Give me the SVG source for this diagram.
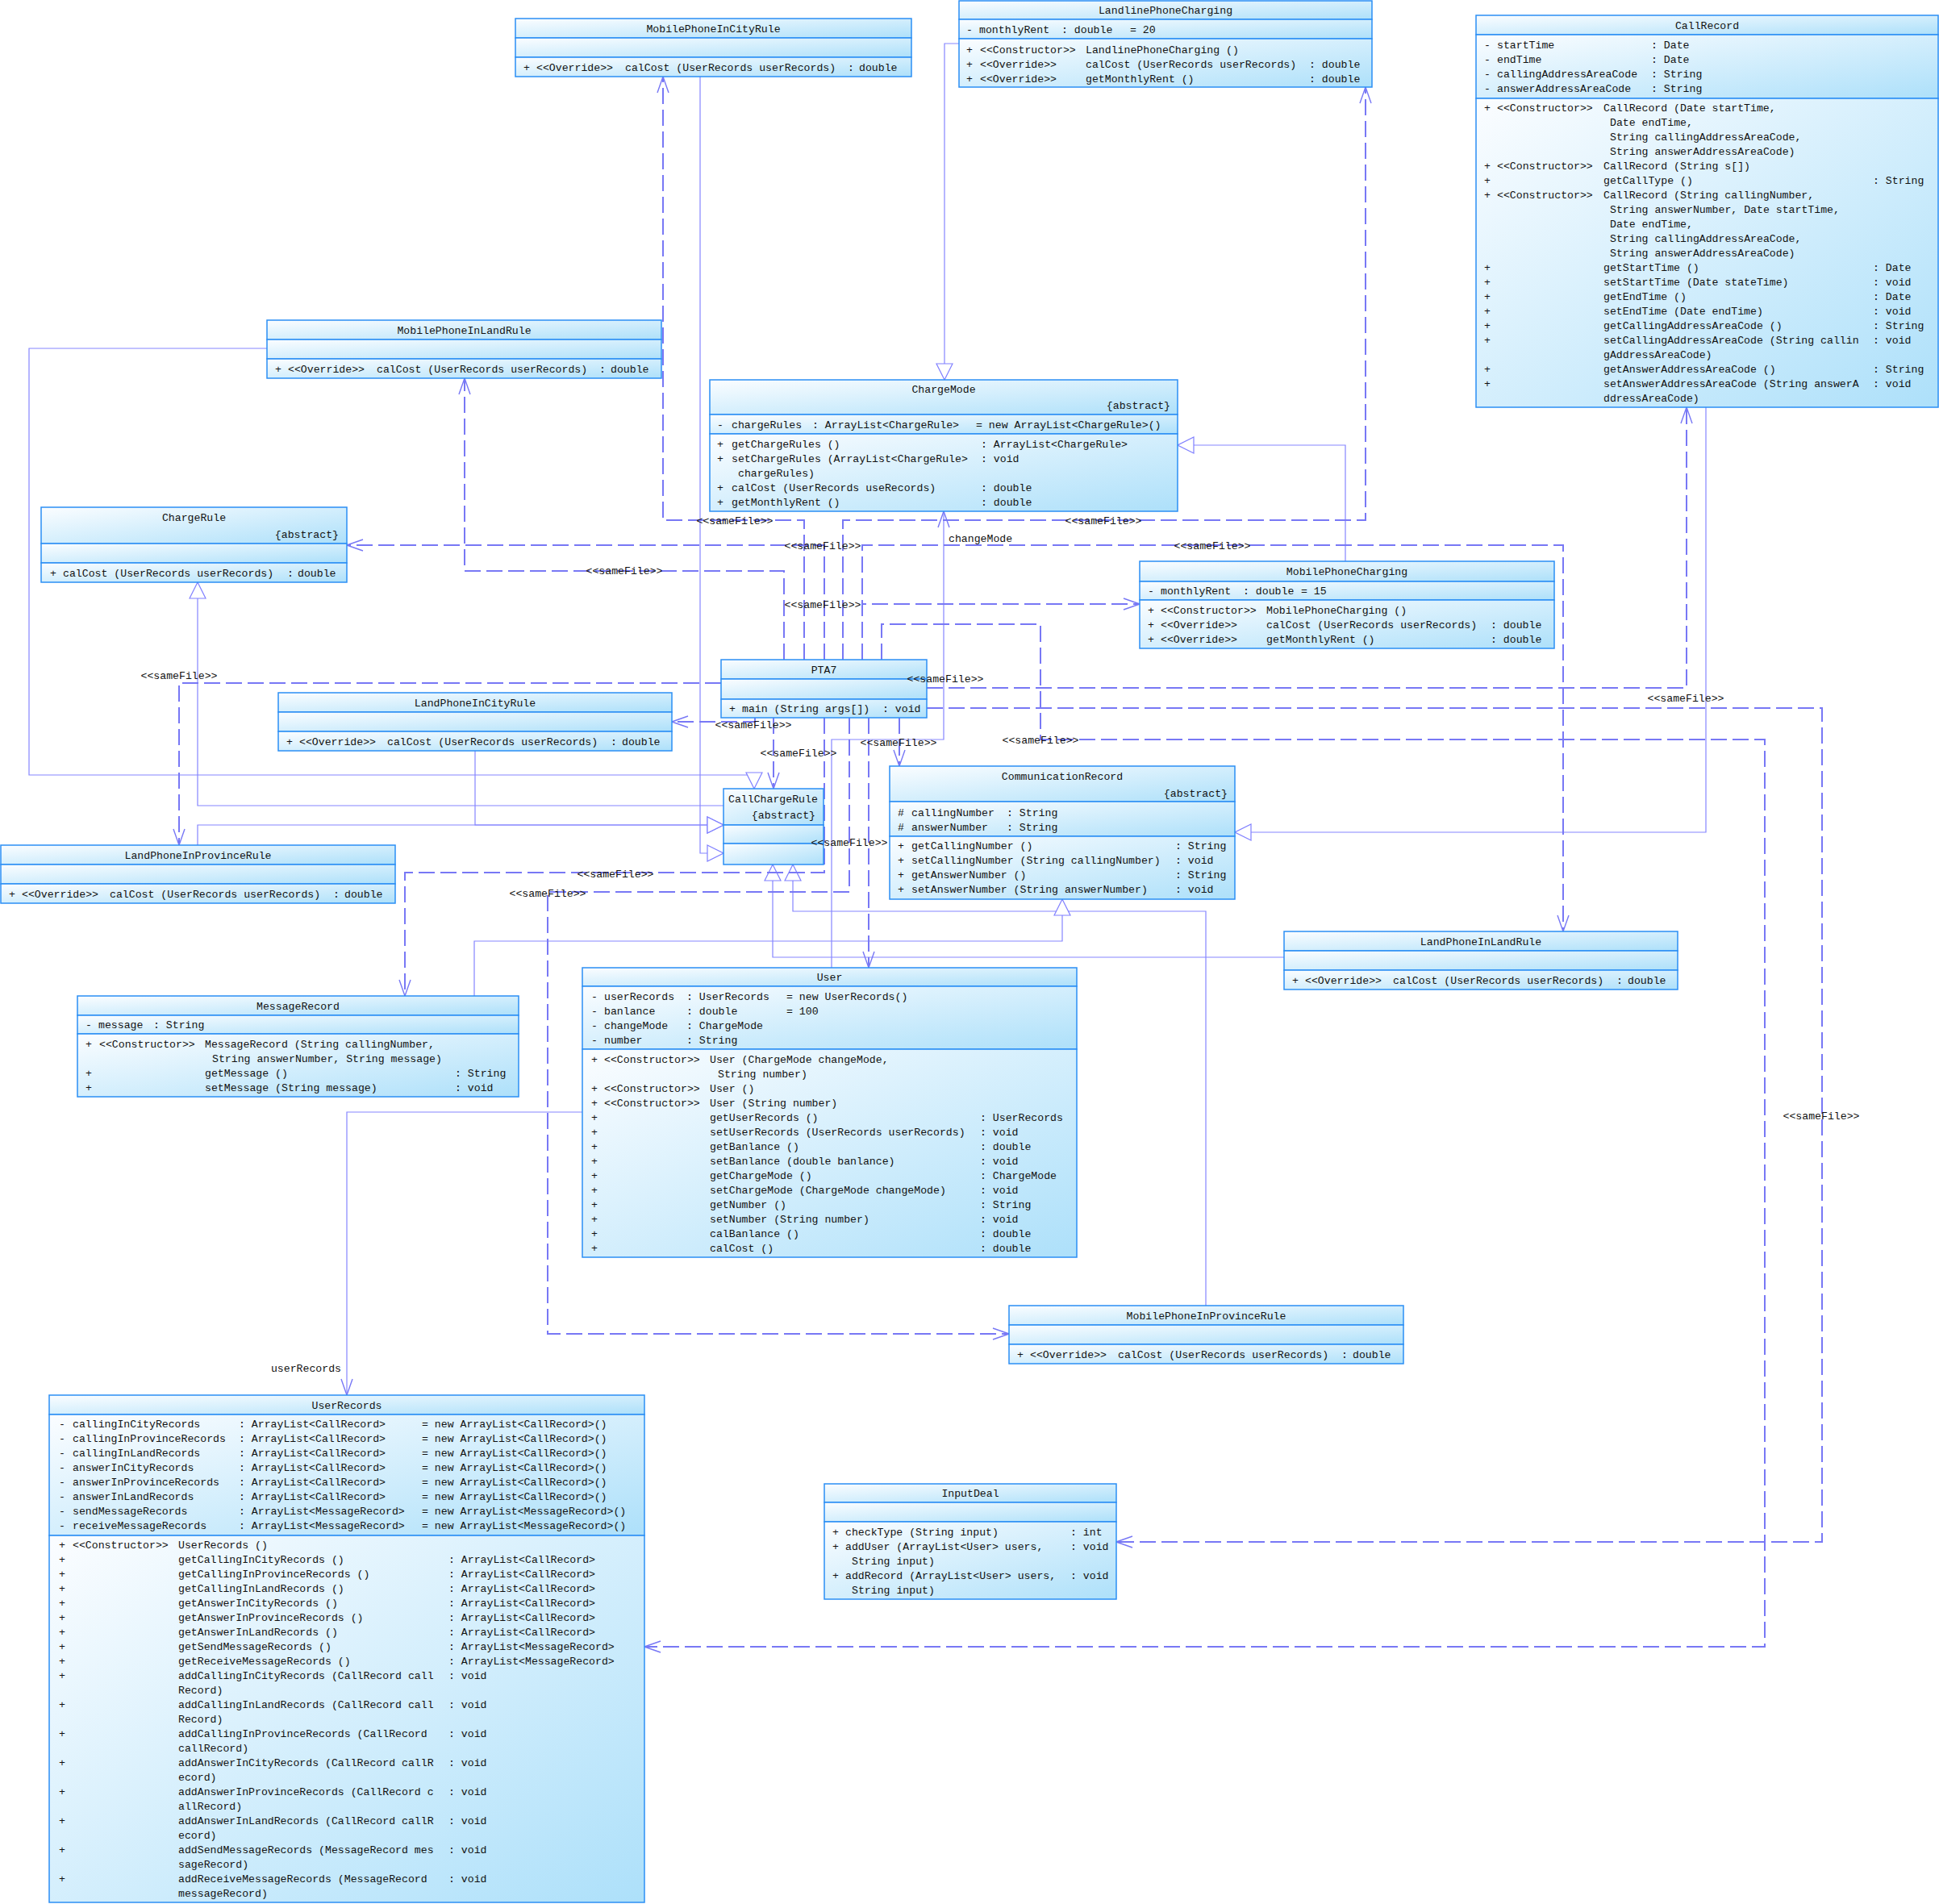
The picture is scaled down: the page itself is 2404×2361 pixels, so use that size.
<svg xmlns="http://www.w3.org/2000/svg" width="2404" height="2361" viewBox="0 0 2404 2361">
<defs>
<linearGradient id="g" x1="0" y1="0" x2="1" y2="1">
<stop offset="0" stop-color="#fbfdff"/>
<stop offset="1" stop-color="#ade0fa"/>
</linearGradient>
<marker id="tri" markerUnits="userSpaceOnUse" viewBox="0 0 22 22" refX="21" refY="11" markerWidth="22" markerHeight="22" orient="auto">
<path d="M1,1 L21,11 L1,21 Z" fill="#ffffff" stroke="#8080ff" stroke-width="1.2"/>
</marker>
<marker id="opn" markerUnits="userSpaceOnUse" viewBox="0 0 22 16" refX="21" refY="8" markerWidth="22" markerHeight="16" orient="auto">
<path d="M1,1 L21,8 L1,15" fill="none" stroke="#7878f5" stroke-width="1.4"/>
</marker>
<style>
.b{fill:url(#g);stroke:#2b8ff5;stroke-width:1.5}
text{font-family:"Liberation Mono",monospace;font-size:13.2px;fill:#111}
.c{text-anchor:middle}
.r{text-anchor:end}
.s{fill:none;stroke:#8585ff;stroke-width:1.2}
.d{fill:none;stroke:#7878f5;stroke-width:2;stroke-dasharray:20 7}
</style>
</defs>
<rect x="0" y="0" width="2404" height="2361" fill="#ffffff"/>

<g id="connectors">
<path class="s" d="M1189,54 H1171 V471" marker-end="url(#tri)"/>
<path class="s" d="M1668,696 V552 H1460" marker-end="url(#tri)"/>
<path class="s" d="M868,95 V1058 H897" marker-end="url(#tri)"/>
<path class="s" d="M331,432 H36 V961 H935 V978" marker-end="url(#tri)"/>
<path class="s" d="M897,999 H245 V722" marker-end="url(#tri)"/>
<path class="s" d="M589,931 V1023 H897" marker-end="url(#tri)"/>
<path class="s" d="M245,1048 V1023 H897" marker-end="url(#tri)"/>
<path class="s" d="M1592,1187 H958 V1072" marker-end="url(#tri)"/>
<path class="s" d="M1495,1619 V1130 H983 V1072" marker-end="url(#tri)"/>
<path class="s" d="M2115,505 V1032 H1531" marker-end="url(#tri)"/>
<path class="s" d="M588,1235 V1167 H1317 V1115" marker-end="url(#tri)"/>
<path class="s" d="M1031,1200 V917 H1170 V634" marker-end="url(#opn)"/>
<path class="s" d="M722,1379 H430 V1730" marker-end="url(#opn)"/>
<path class="d" d="M997,818 V645 H822 V95" marker-end="url(#opn)"/>
<path class="d" d="M1045,818 V645 H1693 V108" marker-end="url(#opn)"/>
<path class="d" d="M1022,818 V676 H430" marker-end="url(#opn)"/>
<path class="d" d="M1069,818 V676 H1938 V1155" marker-end="url(#opn)"/>
<path class="d" d="M972,818 V708 H576 V469" marker-end="url(#opn)"/>
<path class="d" d="M1069,818 V749 H1413" marker-end="url(#opn)"/>
<path class="d" d="M1093,818 V774 H1290 V917 H2188 V2042 H799" marker-end="url(#opn)"/>
<path class="d" d="M894,847 H222 V1048" marker-end="url(#opn)"/>
<path class="d" d="M1149,853 H2091 V505" marker-end="url(#opn)"/>
<path class="d" d="M1149,878 H2259 V1912 H1384" marker-end="url(#opn)"/>
<path class="d" d="M936,890 V895 H833" marker-end="url(#opn)"/>
<path class="d" d="M959,890 V978" marker-end="url(#opn)"/>
<path class="d" d="M1115,890 V950" marker-end="url(#opn)"/>
<path class="d" d="M1022,890 V1082 H502 V1235" marker-end="url(#opn)"/>
<path class="d" d="M1053,890 V1106 H679 V1654 H1251" marker-end="url(#opn)"/>
<path class="d" d="M1077,890 V1200" marker-end="url(#opn)"/>
</g>

<g id="MobilePhoneInCityRule">
<rect class="b" x="639" y="23" width="491" height="24"/>
<rect class="b" x="639" y="47" width="491" height="24"/>
<rect class="b" x="639" y="71" width="491" height="24"/>
<text class="c" x="884.5" y="39.5">MobilePhoneInCityRule</text>
<text y="87.5"><tspan x="649">+</tspan><tspan x="665">&lt;&lt;Override&gt;&gt;</tspan><tspan x="775">calCost (UserRecords userRecords)</tspan><tspan x="1051">:</tspan><tspan x="1065">double</tspan></text>
</g>

<g id="MobilePhoneInLandRule">
<rect class="b" x="331" y="397" width="489" height="24"/>
<rect class="b" x="331" y="421" width="489" height="24"/>
<rect class="b" x="331" y="445" width="489" height="24"/>
<text class="c" x="575.5" y="413.5">MobilePhoneInLandRule</text>
<text y="461.5"><tspan x="341">+</tspan><tspan x="357">&lt;&lt;Override&gt;&gt;</tspan><tspan x="467">calCost (UserRecords userRecords)</tspan><tspan x="743">:</tspan><tspan x="757">double</tspan></text>
</g>

<g id="LandPhoneInCityRule">
<rect class="b" x="345" y="859" width="488" height="24"/>
<rect class="b" x="345" y="883" width="488" height="24"/>
<rect class="b" x="345" y="907" width="488" height="24"/>
<text class="c" x="589" y="875.5">LandPhoneInCityRule</text>
<text y="923.5"><tspan x="355">+</tspan><tspan x="371">&lt;&lt;Override&gt;&gt;</tspan><tspan x="480">calCost (UserRecords userRecords)</tspan><tspan x="757">:</tspan><tspan x="771">double</tspan></text>
</g>

<g id="LandPhoneInProvinceRule">
<rect class="b" x="1" y="1048" width="489" height="24"/>
<rect class="b" x="1" y="1072" width="489" height="24"/>
<rect class="b" x="1" y="1096" width="489" height="24"/>
<text class="c" x="245.5" y="1064.5">LandPhoneInProvinceRule</text>
<text y="1112.5"><tspan x="11">+</tspan><tspan x="27">&lt;&lt;Override&gt;&gt;</tspan><tspan x="136">calCost (UserRecords userRecords)</tspan><tspan x="413">:</tspan><tspan x="427">double</tspan></text>
</g>

<g id="LandPhoneInLandRule">
<rect class="b" x="1592" y="1155" width="488" height="24"/>
<rect class="b" x="1592" y="1179" width="488" height="24"/>
<rect class="b" x="1592" y="1203" width="488" height="24"/>
<text class="c" x="1836" y="1171.5">LandPhoneInLandRule</text>
<text y="1219.5"><tspan x="1602">+</tspan><tspan x="1618">&lt;&lt;Override&gt;&gt;</tspan><tspan x="1727">calCost (UserRecords userRecords)</tspan><tspan x="2004">:</tspan><tspan x="2018">double</tspan></text>
</g>

<g id="MobilePhoneInProvinceRule">
<rect class="b" x="1251" y="1619" width="489" height="24"/>
<rect class="b" x="1251" y="1643" width="489" height="24"/>
<rect class="b" x="1251" y="1667" width="489" height="24"/>
<text class="c" x="1495.5" y="1635.5">MobilePhoneInProvinceRule</text>
<text y="1683.5"><tspan x="1261">+</tspan><tspan x="1277">&lt;&lt;Override&gt;&gt;</tspan><tspan x="1386">calCost (UserRecords userRecords)</tspan><tspan x="1663">:</tspan><tspan x="1677">double</tspan></text>
</g>

<g id="ChargeRule">
<rect class="b" x="51" y="629" width="379" height="45"/>
<rect class="b" x="51" y="674" width="379" height="24"/>
<rect class="b" x="51" y="698" width="379" height="24"/>
<text class="c" x="240.5" y="645.5">ChargeRule</text>
<text class="r" x="420" y="666.5">{abstract}</text>
<text y="714.5"><tspan x="62">+</tspan><tspan x="78">calCost (UserRecords userRecords)</tspan><tspan x="356">:</tspan><tspan x="369">double</tspan></text>
</g>

<g id="ChargeMode">
<rect class="b" x="880" y="471" width="580" height="43"/>
<rect class="b" x="880" y="514" width="580" height="24"/>
<rect class="b" x="880" y="538" width="580" height="96"/>
<text class="c" x="1170" y="486.5">ChargeMode</text>
<text class="r" x="1451" y="507">{abstract}</text>
<text y="530.5"><tspan x="889">-</tspan><tspan x="907">chargeRules</tspan><tspan x="1007">: ArrayList&lt;ChargeRule&gt;</tspan><tspan x="1210">= new ArrayList&lt;ChargeRule&gt;()</tspan></text>
<text y="554.5"><tspan x="889">+</tspan><tspan x="907">getChargeRules ()</tspan><tspan x="1216">: ArrayList&lt;ChargeRule&gt;</tspan></text>
<text y="572.5"><tspan x="889">+</tspan><tspan x="907">setChargeRules (ArrayList&lt;ChargeRule&gt;</tspan><tspan x="1216">: void</tspan></text>
<text y="590.5"><tspan x="915">chargeRules)</tspan></text>
<text y="608.5"><tspan x="889">+</tspan><tspan x="907">calCost (UserRecords useRecords)</tspan><tspan x="1216">: double</tspan></text>
<text y="626.5"><tspan x="889">+</tspan><tspan x="907">getMonthlyRent ()</tspan><tspan x="1216">: double</tspan></text>
</g>

<g id="LandlinePhoneCharging">
<rect class="b" x="1189" y="1" width="512" height="23"/>
<rect class="b" x="1189" y="24" width="512" height="24"/>
<rect class="b" x="1189" y="48" width="512" height="60"/>
<text class="c" x="1445" y="16.5">LandlinePhoneCharging</text>
<text y="40.5"><tspan x="1198">-</tspan><tspan x="1214">monthlyRent</tspan><tspan x="1316">: double</tspan><tspan x="1401">= 20</tspan></text>
<text y="65.5"><tspan x="1198">+</tspan><tspan x="1215">&lt;&lt;Constructor&gt;&gt;</tspan><tspan x="1346">LandlinePhoneCharging ()</tspan></text>
<text y="83.5"><tspan x="1198">+</tspan><tspan x="1215">&lt;&lt;Override&gt;&gt;</tspan><tspan x="1346">calCost (UserRecords userRecords)</tspan><tspan x="1623">: double</tspan></text>
<text y="101.5"><tspan x="1198">+</tspan><tspan x="1215">&lt;&lt;Override&gt;&gt;</tspan><tspan x="1346">getMonthlyRent ()</tspan><tspan x="1623">: double</tspan></text>
</g>

<g id="MobilePhoneCharging">
<rect class="b" x="1413" y="696" width="514" height="25"/>
<rect class="b" x="1413" y="721" width="514" height="23"/>
<rect class="b" x="1413" y="744" width="514" height="60"/>
<text class="c" x="1670" y="712.5">MobilePhoneCharging</text>
<text y="736.5"><tspan x="1423">-</tspan><tspan x="1439">monthlyRent</tspan><tspan x="1541">: double</tspan><tspan x="1613">= 15</tspan></text>
<text y="760.5"><tspan x="1423">+</tspan><tspan x="1439">&lt;&lt;Constructor&gt;&gt;</tspan><tspan x="1570">MobilePhoneCharging ()</tspan></text>
<text y="778.5"><tspan x="1423">+</tspan><tspan x="1439">&lt;&lt;Override&gt;&gt;</tspan><tspan x="1570">calCost (UserRecords userRecords)</tspan><tspan x="1848">: double</tspan></text>
<text y="796.5"><tspan x="1423">+</tspan><tspan x="1439">&lt;&lt;Override&gt;&gt;</tspan><tspan x="1570">getMonthlyRent ()</tspan><tspan x="1848">: double</tspan></text>
</g>

<g id="CallRecord">
<rect class="b" x="1830" y="19" width="573" height="24"/>
<rect class="b" x="1830" y="43" width="573" height="79"/>
<rect class="b" x="1830" y="122" width="573" height="383"/>
<text class="c" x="2116.5" y="35.5">CallRecord</text>
<text y="59.5"><tspan x="1840">-</tspan><tspan x="1856">startTime</tspan><tspan x="2047">: Date</tspan></text>
<text y="77.5"><tspan x="1840">-</tspan><tspan x="1856">endTime</tspan><tspan x="2047">: Date</tspan></text>
<text y="95.5"><tspan x="1840">-</tspan><tspan x="1856">callingAddressAreaCode</tspan><tspan x="2047">: String</tspan></text>
<text y="113.5"><tspan x="1840">-</tspan><tspan x="1856">answerAddressAreaCode</tspan><tspan x="2047">: String</tspan></text>
<text y="137.5"><tspan x="1840">+</tspan><tspan x="1856">&lt;&lt;Constructor&gt;&gt;</tspan><tspan x="1988">CallRecord (Date startTime,</tspan></text>
<text y="155.5" x="1996">Date endTime,</text>
<text y="173.5" x="1996">String callingAddressAreaCode,</text>
<text y="191.5" x="1996">String answerAddressAreaCode)</text>
<text y="209.5"><tspan x="1840">+</tspan><tspan x="1856">&lt;&lt;Constructor&gt;&gt;</tspan><tspan x="1988">CallRecord (String s[])</tspan></text>
<text y="227.5"><tspan x="1840">+</tspan><tspan x="1988">getCallType ()</tspan><tspan x="2322">: String</tspan></text>
<text y="245.5"><tspan x="1840">+</tspan><tspan x="1856">&lt;&lt;Constructor&gt;&gt;</tspan><tspan x="1988">CallRecord (String callingNumber,</tspan></text>
<text y="263.5" x="1996">String answerNumber, Date startTime,</text>
<text y="281.5" x="1996">Date endTime,</text>
<text y="299.5" x="1996">String callingAddressAreaCode,</text>
<text y="317.5" x="1996">String answerAddressAreaCode)</text>
<text y="335.5"><tspan x="1840">+</tspan><tspan x="1988">getStartTime ()</tspan><tspan x="2322">: Date</tspan></text>
<text y="353.5"><tspan x="1840">+</tspan><tspan x="1988">setStartTime (Date stateTime)</tspan><tspan x="2322">: void</tspan></text>
<text y="371.5"><tspan x="1840">+</tspan><tspan x="1988">getEndTime ()</tspan><tspan x="2322">: Date</tspan></text>
<text y="389.5"><tspan x="1840">+</tspan><tspan x="1988">setEndTime (Date endTime)</tspan><tspan x="2322">: void</tspan></text>
<text y="407.5"><tspan x="1840">+</tspan><tspan x="1988">getCallingAddressAreaCode ()</tspan><tspan x="2322">: String</tspan></text>
<text y="425.5"><tspan x="1840">+</tspan><tspan x="1988">setCallingAddressAreaCode (String callin</tspan><tspan x="2322">: void</tspan></text>
<text y="443.5" x="1988">gAddressAreaCode)</text>
<text y="461.5"><tspan x="1840">+</tspan><tspan x="1988">getAnswerAddressAreaCode ()</tspan><tspan x="2322">: String</tspan></text>
<text y="479.5"><tspan x="1840">+</tspan><tspan x="1988">setAnswerAddressAreaCode (String answerA</tspan><tspan x="2322">: void</tspan></text>
<text y="497.5" x="1988">ddressAreaCode)</text>
</g>

<g id="PTA7">
<rect class="b" x="894" y="818" width="255" height="24"/>
<rect class="b" x="894" y="842" width="255" height="25"/>
<rect class="b" x="894" y="867" width="255" height="23"/>
<text class="c" x="1021.5" y="834.5">PTA7</text>
<text y="882.5"><tspan x="904">+</tspan><tspan x="920">main (String args[])</tspan><tspan x="1094">: void</tspan></text>
</g>

<g id="CallChargeRule">
<rect class="b" x="897" y="978" width="124" height="45"/>
<rect class="b" x="897" y="1023" width="124" height="23"/>
<rect class="b" x="897" y="1046" width="124" height="26"/>
<text x="903" y="994.5">CallChargeRule</text>
<text class="r" x="1011" y="1014.5">{abstract}</text>
</g>

<g id="CommunicationRecord">
<rect class="b" x="1103" y="950" width="428" height="44"/>
<rect class="b" x="1103" y="994" width="428" height="43"/>
<rect class="b" x="1103" y="1037" width="428" height="78"/>
<text class="c" x="1317" y="966.5">CommunicationRecord</text>
<text class="r" x="1522" y="987.5">{abstract}</text>
<text y="1011.5"><tspan x="1113">#</tspan><tspan x="1130">callingNumber</tspan><tspan x="1248">: String</tspan></text>
<text y="1029.5"><tspan x="1113">#</tspan><tspan x="1130">answerNumber</tspan><tspan x="1248">: String</tspan></text>
<text y="1052.5"><tspan x="1113">+</tspan><tspan x="1130">getCallingNumber ()</tspan><tspan x="1457">: String</tspan></text>
<text y="1070.5"><tspan x="1113">+</tspan><tspan x="1130">setCallingNumber (String callingNumber)</tspan><tspan x="1457">: void</tspan></text>
<text y="1088.5"><tspan x="1113">+</tspan><tspan x="1130">getAnswerNumber ()</tspan><tspan x="1457">: String</tspan></text>
<text y="1106.5"><tspan x="1113">+</tspan><tspan x="1130">setAnswerNumber (String answerNumber)</tspan><tspan x="1457">: void</tspan></text>
</g>

<g id="MessageRecord">
<rect class="b" x="96" y="1235" width="547" height="24"/>
<rect class="b" x="96" y="1259" width="547" height="23"/>
<rect class="b" x="96" y="1282" width="547" height="78"/>
<text class="c" x="369.5" y="1251.5">MessageRecord</text>
<text y="1274.5"><tspan x="106">-</tspan><tspan x="122">message</tspan><tspan x="190">: String</tspan></text>
<text y="1298.5"><tspan x="106">+</tspan><tspan x="123">&lt;&lt;Constructor&gt;&gt;</tspan><tspan x="254">MessageRecord (String callingNumber,</tspan></text>
<text y="1316.5" x="263">String answerNumber, String message)</text>
<text y="1334.5"><tspan x="106">+</tspan><tspan x="254">getMessage ()</tspan><tspan x="564">: String</tspan></text>
<text y="1352.5"><tspan x="106">+</tspan><tspan x="254">setMessage (String message)</tspan><tspan x="564">: void</tspan></text>
</g>

<g id="User">
<rect class="b" x="722" y="1200" width="613" height="23"/>
<rect class="b" x="722" y="1223" width="613" height="78"/>
<rect class="b" x="722" y="1301" width="613" height="258"/>
<text class="c" x="1028.5" y="1216">User</text>
<text y="1239.5"><tspan x="733">-</tspan><tspan x="749">userRecords</tspan><tspan x="851">: UserRecords</tspan><tspan x="975">= new UserRecords()</tspan></text>
<text y="1257.5"><tspan x="733">-</tspan><tspan x="749">banlance</tspan><tspan x="851">: double</tspan><tspan x="975">= 100</tspan></text>
<text y="1275.5"><tspan x="733">-</tspan><tspan x="749">changeMode</tspan><tspan x="851">: ChargeMode</tspan></text>
<text y="1293.5"><tspan x="733">-</tspan><tspan x="749">number</tspan><tspan x="851">: String</tspan></text>
<text y="1317.5"><tspan x="733">+</tspan><tspan x="749">&lt;&lt;Constructor&gt;&gt;</tspan><tspan x="880">User (ChargeMode changeMode,</tspan></text>
<text y="1335.5" x="890">String number)</text>
<text y="1353.5"><tspan x="733">+</tspan><tspan x="749">&lt;&lt;Constructor&gt;&gt;</tspan><tspan x="880">User ()</tspan></text>
<text y="1371.5"><tspan x="733">+</tspan><tspan x="749">&lt;&lt;Constructor&gt;&gt;</tspan><tspan x="880">User (String number)</tspan></text>
<text y="1389.5"><tspan x="733">+</tspan><tspan x="880">getUserRecords ()</tspan><tspan x="1215">: UserRecords</tspan></text>
<text y="1407.5"><tspan x="733">+</tspan><tspan x="880">setUserRecords (UserRecords userRecords)</tspan><tspan x="1215">: void</tspan></text>
<text y="1425.5"><tspan x="733">+</tspan><tspan x="880">getBanlance ()</tspan><tspan x="1215">: double</tspan></text>
<text y="1443.5"><tspan x="733">+</tspan><tspan x="880">setBanlance (double banlance)</tspan><tspan x="1215">: void</tspan></text>
<text y="1461.5"><tspan x="733">+</tspan><tspan x="880">getChargeMode ()</tspan><tspan x="1215">: ChargeMode</tspan></text>
<text y="1479.5"><tspan x="733">+</tspan><tspan x="880">setChargeMode (ChargeMode changeMode)</tspan><tspan x="1215">: void</tspan></text>
<text y="1497.5"><tspan x="733">+</tspan><tspan x="880">getNumber ()</tspan><tspan x="1215">: String</tspan></text>
<text y="1515.5"><tspan x="733">+</tspan><tspan x="880">setNumber (String number)</tspan><tspan x="1215">: void</tspan></text>
<text y="1533.5"><tspan x="733">+</tspan><tspan x="880">calBanlance ()</tspan><tspan x="1215">: double</tspan></text>
<text y="1551.5"><tspan x="733">+</tspan><tspan x="880">calCost ()</tspan><tspan x="1215">: double</tspan></text>
</g>

<g id="UserRecords">
<rect class="b" x="61" y="1730" width="738" height="24"/>
<rect class="b" x="61" y="1754" width="738" height="150"/>
<rect class="b" x="61" y="1904" width="738" height="455"/>
<text class="c" x="430" y="1746.5">UserRecords</text>
<text y="1769.5"><tspan x="73">-</tspan><tspan x="90">callingInCityRecords</tspan><tspan x="296">: ArrayList&lt;CallRecord&gt;</tspan><tspan x="523">= new ArrayList&lt;CallRecord&gt;()</tspan></text>
<text y="1787.5"><tspan x="73">-</tspan><tspan x="90">callingInProvinceRecords</tspan><tspan x="296">: ArrayList&lt;CallRecord&gt;</tspan><tspan x="523">= new ArrayList&lt;CallRecord&gt;()</tspan></text>
<text y="1805.5"><tspan x="73">-</tspan><tspan x="90">callingInLandRecords</tspan><tspan x="296">: ArrayList&lt;CallRecord&gt;</tspan><tspan x="523">= new ArrayList&lt;CallRecord&gt;()</tspan></text>
<text y="1823.5"><tspan x="73">-</tspan><tspan x="90">answerInCityRecords</tspan><tspan x="296">: ArrayList&lt;CallRecord&gt;</tspan><tspan x="523">= new ArrayList&lt;CallRecord&gt;()</tspan></text>
<text y="1841.5"><tspan x="73">-</tspan><tspan x="90">answerInProvinceRecords</tspan><tspan x="296">: ArrayList&lt;CallRecord&gt;</tspan><tspan x="523">= new ArrayList&lt;CallRecord&gt;()</tspan></text>
<text y="1859.5"><tspan x="73">-</tspan><tspan x="90">answerInLandRecords</tspan><tspan x="296">: ArrayList&lt;CallRecord&gt;</tspan><tspan x="523">= new ArrayList&lt;CallRecord&gt;()</tspan></text>
<text y="1877.5"><tspan x="73">-</tspan><tspan x="90">sendMessageRecords</tspan><tspan x="296">: ArrayList&lt;MessageRecord&gt;</tspan><tspan x="523">= new ArrayList&lt;MessageRecord&gt;()</tspan></text>
<text y="1895.5"><tspan x="73">-</tspan><tspan x="90">receiveMessageRecords</tspan><tspan x="296">: ArrayList&lt;MessageRecord&gt;</tspan><tspan x="523">= new ArrayList&lt;MessageRecord&gt;()</tspan></text>
<text y="1919.5"><tspan x="73">+</tspan><tspan x="90">&lt;&lt;Constructor&gt;&gt;</tspan><tspan x="221">UserRecords ()</tspan></text>
<text y="1937.5"><tspan x="73">+</tspan><tspan x="221">getCallingInCityRecords ()</tspan><tspan x="556">: ArrayList&lt;CallRecord&gt;</tspan></text>
<text y="1955.5"><tspan x="73">+</tspan><tspan x="221">getCallingInProvinceRecords ()</tspan><tspan x="556">: ArrayList&lt;CallRecord&gt;</tspan></text>
<text y="1973.5"><tspan x="73">+</tspan><tspan x="221">getCallingInLandRecords ()</tspan><tspan x="556">: ArrayList&lt;CallRecord&gt;</tspan></text>
<text y="1991.5"><tspan x="73">+</tspan><tspan x="221">getAnswerInCityRecords ()</tspan><tspan x="556">: ArrayList&lt;CallRecord&gt;</tspan></text>
<text y="2009.5"><tspan x="73">+</tspan><tspan x="221">getAnswerInProvinceRecords ()</tspan><tspan x="556">: ArrayList&lt;CallRecord&gt;</tspan></text>
<text y="2027.5"><tspan x="73">+</tspan><tspan x="221">getAnswerInLandRecords ()</tspan><tspan x="556">: ArrayList&lt;CallRecord&gt;</tspan></text>
<text y="2045.5"><tspan x="73">+</tspan><tspan x="221">getSendMessageRecords ()</tspan><tspan x="556">: ArrayList&lt;MessageRecord&gt;</tspan></text>
<text y="2063.5"><tspan x="73">+</tspan><tspan x="221">getReceiveMessageRecords ()</tspan><tspan x="556">: ArrayList&lt;MessageRecord&gt;</tspan></text>
<text y="2081.5"><tspan x="73">+</tspan><tspan x="221">addCallingInCityRecords (CallRecord call</tspan><tspan x="556">: void</tspan></text>
<text y="2099.5" x="221">Record)</text>
<text y="2117.5"><tspan x="73">+</tspan><tspan x="221">addCallingInLandRecords (CallRecord call</tspan><tspan x="556">: void</tspan></text>
<text y="2135.5" x="221">Record)</text>
<text y="2153.5"><tspan x="73">+</tspan><tspan x="221">addCallingInProvinceRecords (CallRecord</tspan><tspan x="556">: void</tspan></text>
<text y="2171.5" x="221">callRecord)</text>
<text y="2189.5"><tspan x="73">+</tspan><tspan x="221">addAnswerInCityRecords (CallRecord callR</tspan><tspan x="556">: void</tspan></text>
<text y="2207.5" x="221">ecord)</text>
<text y="2225.5"><tspan x="73">+</tspan><tspan x="221">addAnswerInProvinceRecords (CallRecord c</tspan><tspan x="556">: void</tspan></text>
<text y="2243.5" x="221">allRecord)</text>
<text y="2261.5"><tspan x="73">+</tspan><tspan x="221">addAnswerInLandRecords (CallRecord callR</tspan><tspan x="556">: void</tspan></text>
<text y="2279.5" x="221">ecord)</text>
<text y="2297.5"><tspan x="73">+</tspan><tspan x="221">addSendMessageRecords (MessageRecord mes</tspan><tspan x="556">: void</tspan></text>
<text y="2315.5" x="221">sageRecord)</text>
<text y="2333.5"><tspan x="73">+</tspan><tspan x="221">addReceiveMessageRecords (MessageRecord</tspan><tspan x="556">: void</tspan></text>
<text y="2351.5" x="221">messageRecord)</text>
</g>

<g id="InputDeal">
<rect class="b" x="1022" y="1840" width="362" height="23"/>
<rect class="b" x="1022" y="1863" width="362" height="24"/>
<rect class="b" x="1022" y="1887" width="362" height="96"/>
<text class="c" x="1203" y="1856">InputDeal</text>
<text y="1903.5"><tspan x="1032">+</tspan><tspan x="1048">checkType (String input)</tspan><tspan x="1327">: int</tspan></text>
<text y="1921.5"><tspan x="1032">+</tspan><tspan x="1048">addUser (ArrayList&lt;User&gt; users,</tspan><tspan x="1327">: void</tspan></text>
<text y="1939.5" x="1056">String input)</text>
<text y="1957.5"><tspan x="1032">+</tspan><tspan x="1048">addRecord (ArrayList&lt;User&gt; users,</tspan><tspan x="1327">: void</tspan></text>
<text y="1975.5" x="1056">String input)</text>
</g>

<g id="connector-labels">
<text class="c" x="911" y="649.5">&lt;&lt;sameFile&gt;&gt;</text>
<text class="c" x="1368" y="649.5">&lt;&lt;sameFile&gt;&gt;</text>
<text class="c" x="1020" y="680.5">&lt;&lt;sameFile&gt;&gt;</text>
<text class="c" x="1503" y="680.5">&lt;&lt;sameFile&gt;&gt;</text>
<text class="c" x="774" y="712">&lt;&lt;sameFile&gt;&gt;</text>
<text class="c" x="1020" y="753.5">&lt;&lt;sameFile&gt;&gt;</text>
<text class="c" x="222" y="841.5">&lt;&lt;sameFile&gt;&gt;</text>
<text class="c" x="1172" y="845.5">&lt;&lt;sameFile&gt;&gt;</text>
<text class="c" x="934" y="903">&lt;&lt;sameFile&gt;&gt;</text>
<text class="c" x="990" y="937.5">&lt;&lt;sameFile&gt;&gt;</text>
<text class="c" x="1114" y="924.5">&lt;&lt;sameFile&gt;&gt;</text>
<text class="c" x="1290" y="921.5">&lt;&lt;sameFile&gt;&gt;</text>
<text class="c" x="2090" y="869.5">&lt;&lt;sameFile&gt;&gt;</text>
<text class="c" x="763" y="1087.5">&lt;&lt;sameFile&gt;&gt;</text>
<text class="c" x="679" y="1111.5">&lt;&lt;sameFile&gt;&gt;</text>
<text class="c" x="1053" y="1048.5">&lt;&lt;sameFile&gt;&gt;</text>
<text class="c" x="2258" y="1387.5">&lt;&lt;sameFile&gt;&gt;</text>
<text x="1176" y="671.5">changeMode</text>
<text class="r" x="423" y="1700.5">userRecords</text>
</g>
</svg>
